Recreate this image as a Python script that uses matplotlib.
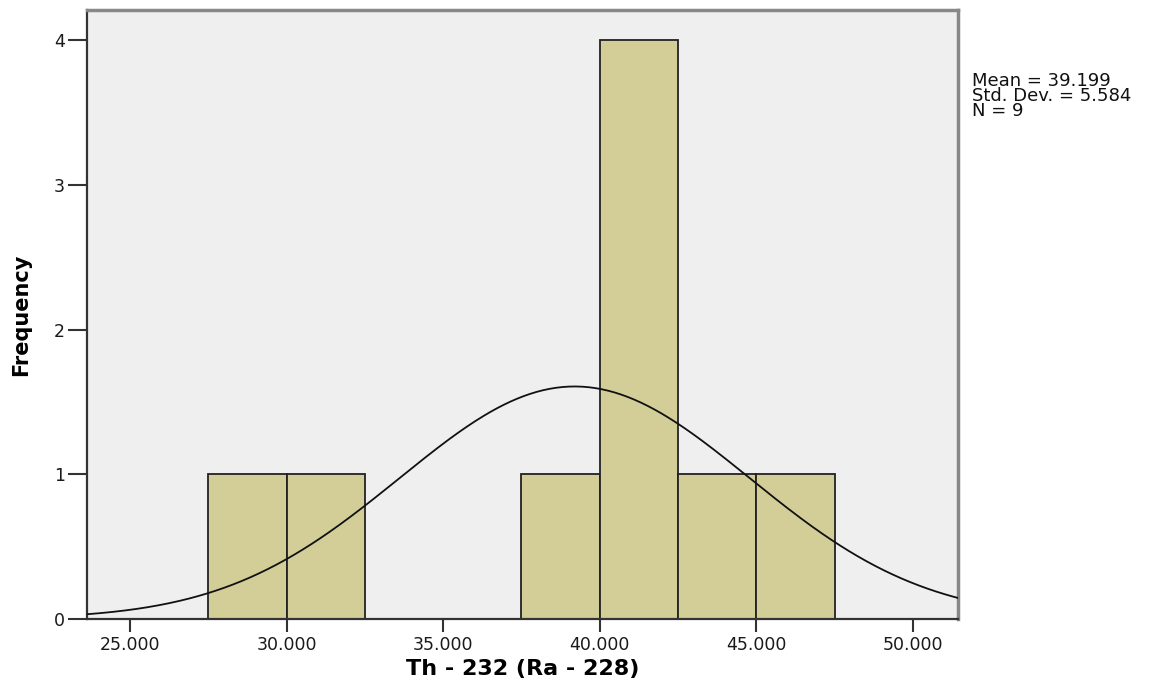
import numpy as np
import matplotlib
matplotlib.use('Agg')
import matplotlib.pyplot as plt

# histogram bins (left edges) and counts
bin_left = [27.5, 30.0, 32.5, 35.0, 37.5, 40.0, 42.5, 45.0]
counts = [1, 1, 0, 0, 1, 4, 1, 1]
bin_width = 2.5

mean = 39.199
std = 5.584
n = 9

x_ticks = [25, 30, 35, 40, 45, 50]
x_labels = ['25.000', '30.000', '35.000', '40.000', '45.000', '50.000']
y_ticks = [0, 1, 2, 3, 4]

fig = plt.figure(figsize=(11.5, 6.86), dpi=100)
ax = fig.add_axes([87 / 1150, 67 / 686, 871 / 1150, 609 / 686])
ax.set_facecolor('#efefef')

ax.bar(bin_left, counts, width=bin_width, align='edge',
       color='#d3ce97', edgecolor='#222222', linewidth=1.3, zorder=2)

# normal curve scaled to the histogram
xs = np.linspace(23.6, 51.45, 400)
ys = n * bin_width / (std * np.sqrt(2 * np.pi)) * np.exp(-0.5 * ((xs - mean) / std) ** 2)
ax.plot(xs, ys, color='#111111', linewidth=1.3, zorder=3)

ax.set_xlim(23.63, 51.44)
ax.set_ylim(0, 4.21)
ax.set_xticks(x_ticks)
ax.set_xticklabels(x_labels)
ax.set_yticks(y_ticks)
ax.tick_params(axis='both', direction='out', length=9, width=1.5, color='#333333',
               labelsize=12.5, labelcolor='#1a1a1a')
ax.tick_params(axis='y', length=14, pad=2)
ax.tick_params(axis='x', pad=3)

for s in ['left', 'bottom']:
    ax.spines[s].set_color('#333333')
    ax.spines[s].set_linewidth(1.6)
for s in ['top', 'right']:
    ax.spines[s].set_color('#888888')
    ax.spines[s].set_linewidth(2.5)

ax.set_xlabel('Th - 232 (Ra - 228)', fontsize=16, fontweight='bold', labelpad=4)
ax.set_ylabel('Frequency', fontsize=15, fontweight='bold', labelpad=16)

fig.text(972 / 1150, 1 - 72 / 686,
         'Mean = 39.199\nStd. Dev. = 5.584\nN = 9',
         fontsize=13, va='top', ha='left', linespacing=0.8,
         color='#111111')

fig.savefig('out.png', dpi=100)
